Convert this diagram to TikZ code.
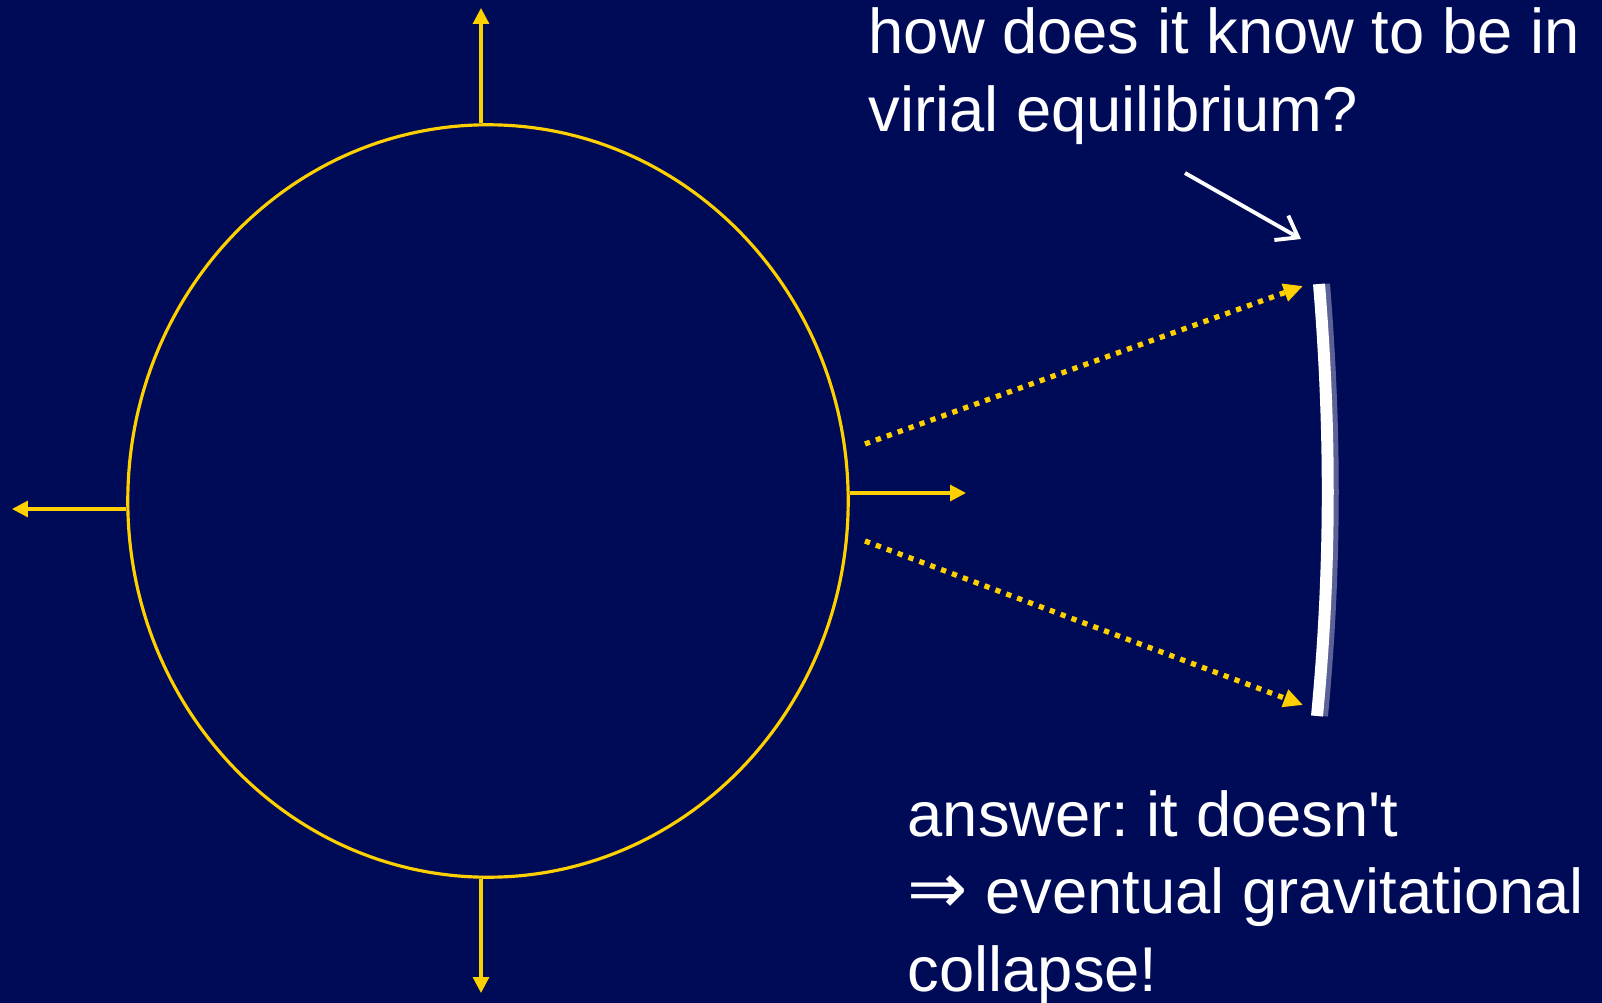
\documentclass[tikz,border=0pt]{standalone}
\usepackage{fontspec}
\setmainfont{Liberation Sans}
\newfontfamily\arrowfont{DejaVu Sans}
\usetikzlibrary{arrows.meta,shapes.geometric}
\definecolor{slideblue}{RGB}{0,11,87}
\definecolor{sunyellow}{RGB}{255,208,0}
\definecolor{shieldshade}{RGB}{92,98,150}
\frenchspacing
\tikzset{
    slide/.style     = {x=0.01cm, y=-0.01cm},
    gas/.style       = {draw=sunyellow, line width=0.9pt, ellipse, inner sep=0pt,
                        minimum width=7.2cm, minimum height=7.52cm},
    ray/.style       = {draw=sunyellow, line width=0.9pt,
                        -{Triangle[length=4.5pt, width=4.5pt]}},
    beam/.style      = {draw=sunyellow, line width=1.5pt, dash pattern=on 1.5pt off 1.8pt,
                        -{Triangle[length=5.5pt, width=5pt]}},
    shield/.style    = {draw=white, line width=3.4pt},
    pointer/.style   = {draw=white, line width=1.1pt,
                        -{Straight Barb[length=5.5pt, width=8pt]}},
    note/.style      = {text=white, font=\fontsize{18}{22}\selectfont,
                        align=left, anchor=base west, inner sep=0pt}
}

\begin{document}
\begin{tikzpicture}[slide]

% ================= Slide background =================
\fill[slideblue] (0,0) rectangle (1602,1003);
\useasboundingbox (0,0) rectangle (1602,1003);

% ================= Gas cloud =================
\node[gas] (gasball) at (488,501) {};

% ================= Expansion arrows =================
\coordinate (uptip)    at (481,8);
\coordinate (downtip)  at (481,993);
\coordinate (lefttip)  at (12,509);
\coordinate (righttip) at (966,493);
\draw[ray] (gasball.north -| uptip) -- (uptip);
\draw[ray] (gasball.south -| downtip) -- (downtip);
\draw[ray] (gasball.west |- lefttip) -- (lefttip);
\draw[ray] (gasball.east |- righttip) -- (righttip);

% ================= Shield at the edge =================
\coordinate (shieldtop) at (1319,284);
\coordinate (shieldbot) at (1317,716);
\draw[shield, shieldshade]
    (1324,284) .. controls (1336,430) and (1336,570) .. (1322,716);
\draw[shield]
    (shieldtop) .. controls (1331,430) and (1331,570) .. (shieldbot);

% ================= Signal to the shield =================
\coordinate (beamup)   at (865,444);
\coordinate (beamdown) at (865,541);
\coordinate (hitup)    at (1303,286);
\coordinate (hitdown)  at (1303,705);
\draw[beam] (beamup) -- (hitup);
\draw[beam] (beamdown) -- (hitdown);

% ================= Question (base = last line) =================
\node[note] (question) at (868,131)
    {how does it know to be in\\virial equilibrium?};
\coordinate (askfrom) at (1185,173);
\coordinate (asktip)  at (1301,239);
\draw[pointer] (askfrom) -- (asktip);

% ================= Answer (base = last line) =================
\node[note] (answer) at (907,991)
    {answer: it doesn\textquotesingle t\\{\arrowfont\fontsize{20.5}{22}\selectfont ⇒} eventual gravitational\\collapse!};

\end{tikzpicture}
\end{document}
